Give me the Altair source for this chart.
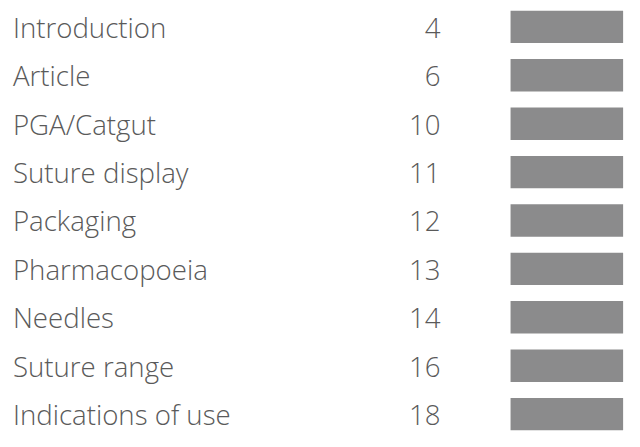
import altair as alt
import pandas as pd

labels = ["Introduction", "Article", "PGA/Catgut", "Suture display", "Packaging",
          "Pharmacopoeia", "Needles", "Suture range", "Indications of use"]
pages = [4, 6, 10, 11, 12, 13, 14, 16, 18]

df = pd.DataFrame({"label": labels, "page": pages})

yenc = alt.Y("label:N", sort=labels, axis=None,
             scale=alt.Scale(paddingInner=0.33, paddingOuter=0, align=0))

bars = alt.Chart(df).mark_bar(color="#8b8b8c").encode(
    y=yenc, x=alt.value(509), x2=alt.value(623)
)

font = "Open Sans"
txt = alt.Chart(df).mark_text(
    align="left", baseline="alphabetic", dy=11, font=font, fontSize=28,
    fontWeight=300, color="#5a5a5a"
).encode(y=yenc, x=alt.value(5), text="label:N")

num = alt.Chart(df).mark_text(
    align="right", baseline="alphabetic", dy=11, font=font, fontSize=28,
    fontWeight=300, color="#5a5a5a"
).encode(y=yenc, x=alt.value(438), text="page:Q")

chart = alt.layer(bars, txt, num).properties(
    width=632, height=425, padding=0, autosize=alt.AutoSizeParams(type="none")
).configure_view(strokeWidth=0)

chart.save("out.html", embed_options={"renderer": "svg", "actions": False})
